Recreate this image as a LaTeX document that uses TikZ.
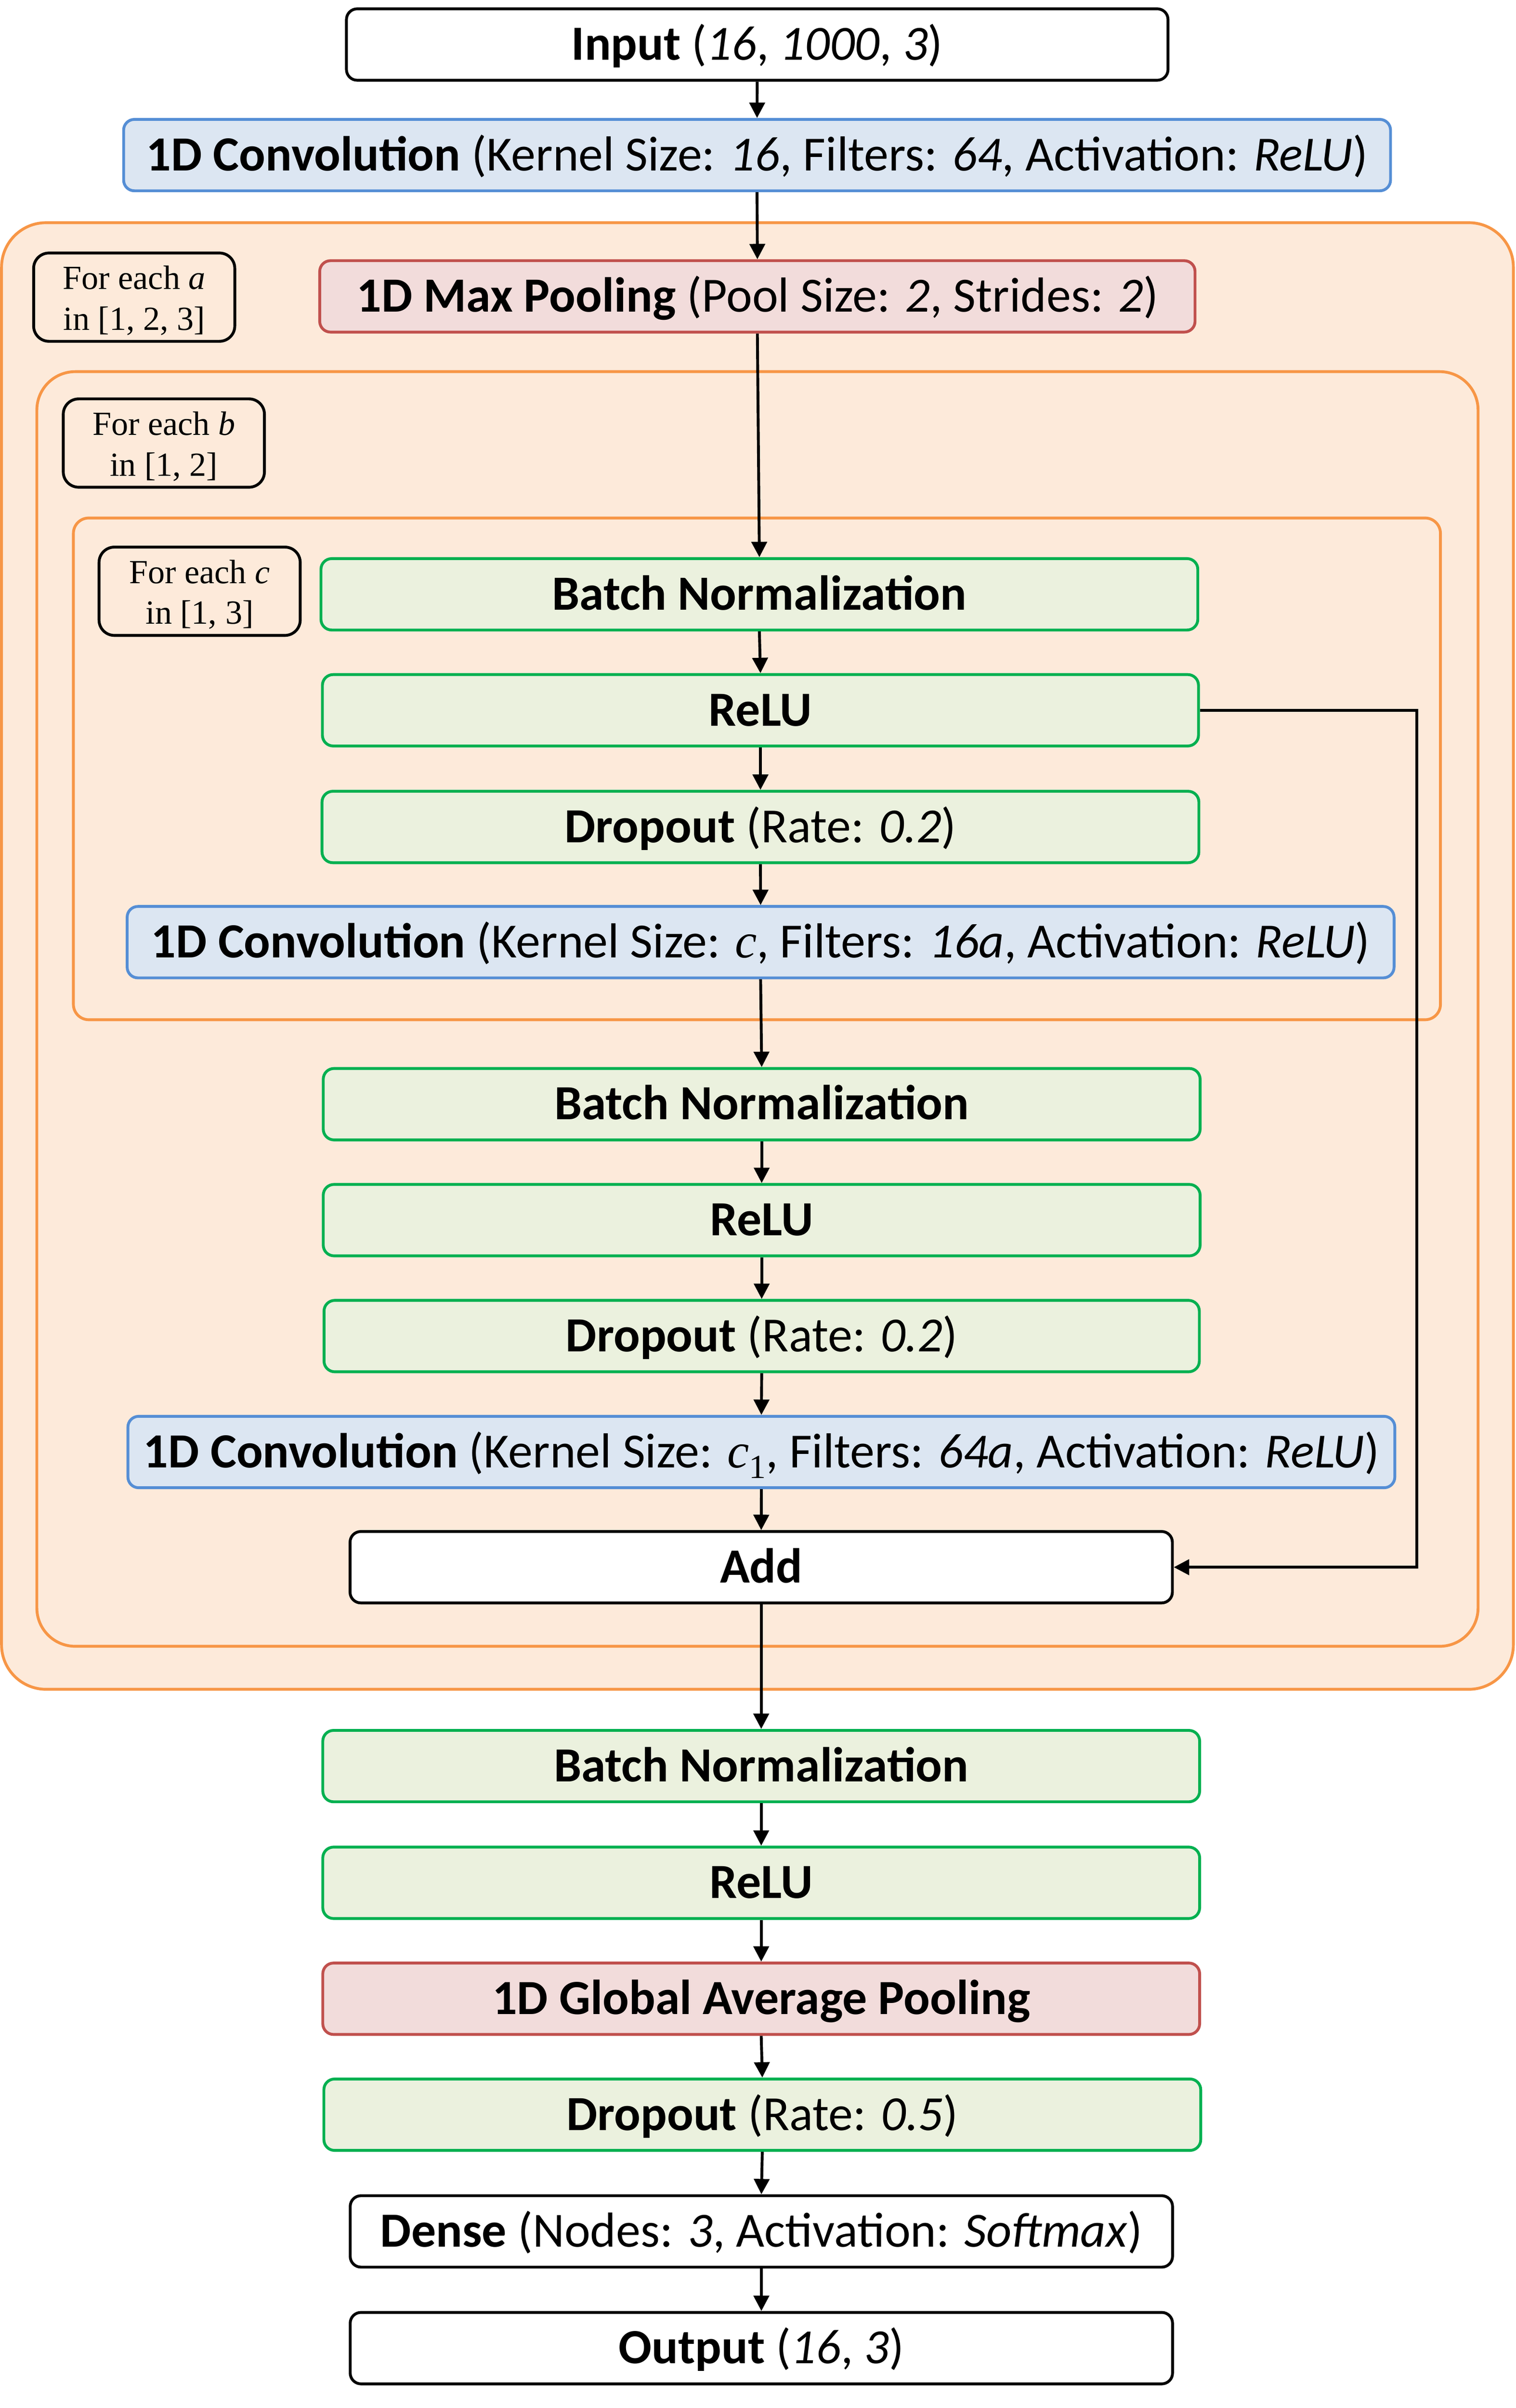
\documentclass[tikz,border=0pt]{standalone}
\usepackage{fontspec}
\setmainfont{Carlito}
\newfontfamily\serifm{Liberation Serif}
\usetikzlibrary{arrows.meta}
\newcommand{\myvar}[1]{{\serifm\itshape #1}}
\newcommand{\mysub}[1]{\raisebox{-0.22em}{\serifm\fontsize{22}{22}\selectfont #1}}
\definecolor{orgS}{HTML}{F79646}
\definecolor{orgF}{HTML}{FDEADA}
\definecolor{grnS}{HTML}{00B050}
\definecolor{grnF}{HTML}{EBF1DE}
\definecolor{bluS}{HTML}{558ED5}
\definecolor{bluF}{HTML}{DCE6F2}
\definecolor{redS}{HTML}{C0504D}
\definecolor{redF}{HTML}{F2DCDB}
\tikzset{
  layer/.style={draw, line width=1.85pt, rounded corners=7pt, inner sep=0pt,
    minimum height=46.5pt, font=\fontsize{32}{38}\selectfont,
    text height=20.2pt, text depth=0pt, align=center},
  whitebox/.style={layer, fill=white, draw=black},
  greenbox/.style={layer, fill=grnF, draw=grnS},
  bluebox/.style={layer, fill=bluF, draw=bluS},
  redbox/.style={layer, fill=redF, draw=redS},
  loopbox/.style={draw=black, line width=1.85pt, rounded corners=10pt, inner sep=0pt,
    minimum width=131pt, minimum height=57.5pt, align=center,
    font=\serifm\fontsize{22}{26.5}\selectfont},
  container/.style={draw=orgS, fill=orgF, line width=1.85pt},
  conn/.style={draw=black, line width=1.85pt, -{Triangle[length=10pt,width=10pt]}}
}
\newcommand{\topstrut}{\rule{0pt}{20.3pt}}
\newcommand{\botstrut}{\rule[-4pt]{0pt}{4pt}}
\begin{document}
\begin{tikzpicture}[x=1pt,y=-1pt]
\useasboundingbox (0,0) rectangle (987,1568);
% containers
\draw[container, rounded corners=29pt] (1,145) rectangle (985.5,1100);
\draw[container, rounded corners=25pt] (24,242) rectangle (962.5,1072);
\draw[container, rounded corners=10pt] (47.8,337.3) rectangle (938,664);
% loop labels
\node[loopbox] (loopa) at (87.4,193.5) {\topstrut For each \textit{a}\\in [1, 2, 3]\botstrut};
\node[loopbox] (loopb) at (106.7,288.5) {\topstrut For each \textit{b}\\in [1, 2]\botstrut};
\node[loopbox] (loopc) at (130,385) {\topstrut For each \textit{c}\\in [1, 3]\botstrut};
% layers
\node[whitebox, minimum width=535pt] (in) at (493.1,29) {\textbf{Input} (\textit{16}, \textit{1000}, \textit{3})};
\node[bluebox, minimum width=825pt] (conv1) at (493,101) {\textbf{1D Convolution} (Kernel Size: \textit{16}, Filters: \textit{64}, Activation: \textit{ReLU})};
\node[redbox, minimum width=570pt] (pool) at (493.2,193) {\textbf{1D Max Pooling} (Pool Size: \textit{2}, Strides: \textit{2})};
\node[greenbox, minimum width=571pt] (bn1) at (494.5,387) {\textbf{Batch Normalization}};
\node[greenbox, minimum width=570.5pt] (relu1) at (495.2,462.5) {\textbf{ReLU}};
\node[greenbox, minimum width=571pt] (drop1) at (495.2,538.5) {\textbf{Dropout} (Rate: \textit{0.2})};
\node[bluebox, minimum width=825pt] (convc) at (495.3,613.5) {\textbf{1D Convolution} (Kernel Size: \myvar{c}, Filters: \textit{16a}, Activation: \textit{ReLU})};
\node[greenbox, minimum width=571pt] (bn2) at (496,719) {\textbf{Batch Normalization}};
\node[greenbox, minimum width=571pt] (relu2) at (496,794.5) {\textbf{ReLU}};
\node[greenbox, minimum width=570pt] (drop2) at (496,870) {\textbf{Dropout} (Rate: \textit{0.2})};
\node[bluebox, minimum width=825pt] (convc1) at (495.8,945.5) {\textbf{1D Convolution} (Kernel Size: \myvar{c}\mysub{1}, Filters: \textit{64a}, Activation: \textit{ReLU})};
\node[whitebox, minimum width=535.5pt] (add) at (495.7,1020.5) {\textbf{Add}};
\node[greenbox, minimum width=571pt] (bn3) at (495.7,1150) {\textbf{Batch Normalization}};
\node[greenbox, minimum width=571pt] (relu3) at (495.7,1226) {\textbf{ReLU}};
\node[redbox, minimum width=571pt] (gap) at (495.7,1301.5) {\textbf{1D Global Average Pooling}};
\node[greenbox, minimum width=571pt] (drop3) at (496.4,1377) {\textbf{Dropout} (Rate: \textit{0.5})};
\node[whitebox, minimum width=535.5pt] (dense) at (495.8,1453) {\textbf{Dense} (Nodes: \textit{3}, Activation: \textit{Softmax})};
\node[whitebox, minimum width=535.5pt] (out) at (495.8,1529) {\textbf{Output} (\textit{16}, \textit{3})};
% connectors
\draw[conn] (in.south) -- (conv1.north);
\draw[conn] (conv1.south) -- (pool.north);
\draw[conn] (pool.south) -- (bn1.north);
\draw[conn] (bn1.south) -- (relu1.north);
\draw[conn] (relu1.south) -- (drop1.north);
\draw[conn] (drop1.south) -- (convc.north);
\draw[conn] (convc.south) -- (bn2.north);
\draw[conn] (bn2.south) -- (relu2.north);
\draw[conn] (relu2.south) -- (drop2.north);
\draw[conn] (drop2.south) -- (convc1.north);
\draw[conn] (convc1.south) -- (add.north);
\draw[conn] (add.south) -- (bn3.north);
\draw[conn] (bn3.south) -- (relu3.north);
\draw[conn] (relu3.south) -- (gap.north);
\draw[conn] (gap.south) -- (drop3.north);
\draw[conn] (drop3.south) -- (dense.north);
\draw[conn] (dense.south) -- (out.north);
\coordinate (sk1) at (922.6,462.5);
\coordinate (sk2) at (922.6,1020.5);
\draw[conn] (relu1.east) -- (sk1) -- (sk2) -- (add.east);
\end{tikzpicture}
\end{document}
